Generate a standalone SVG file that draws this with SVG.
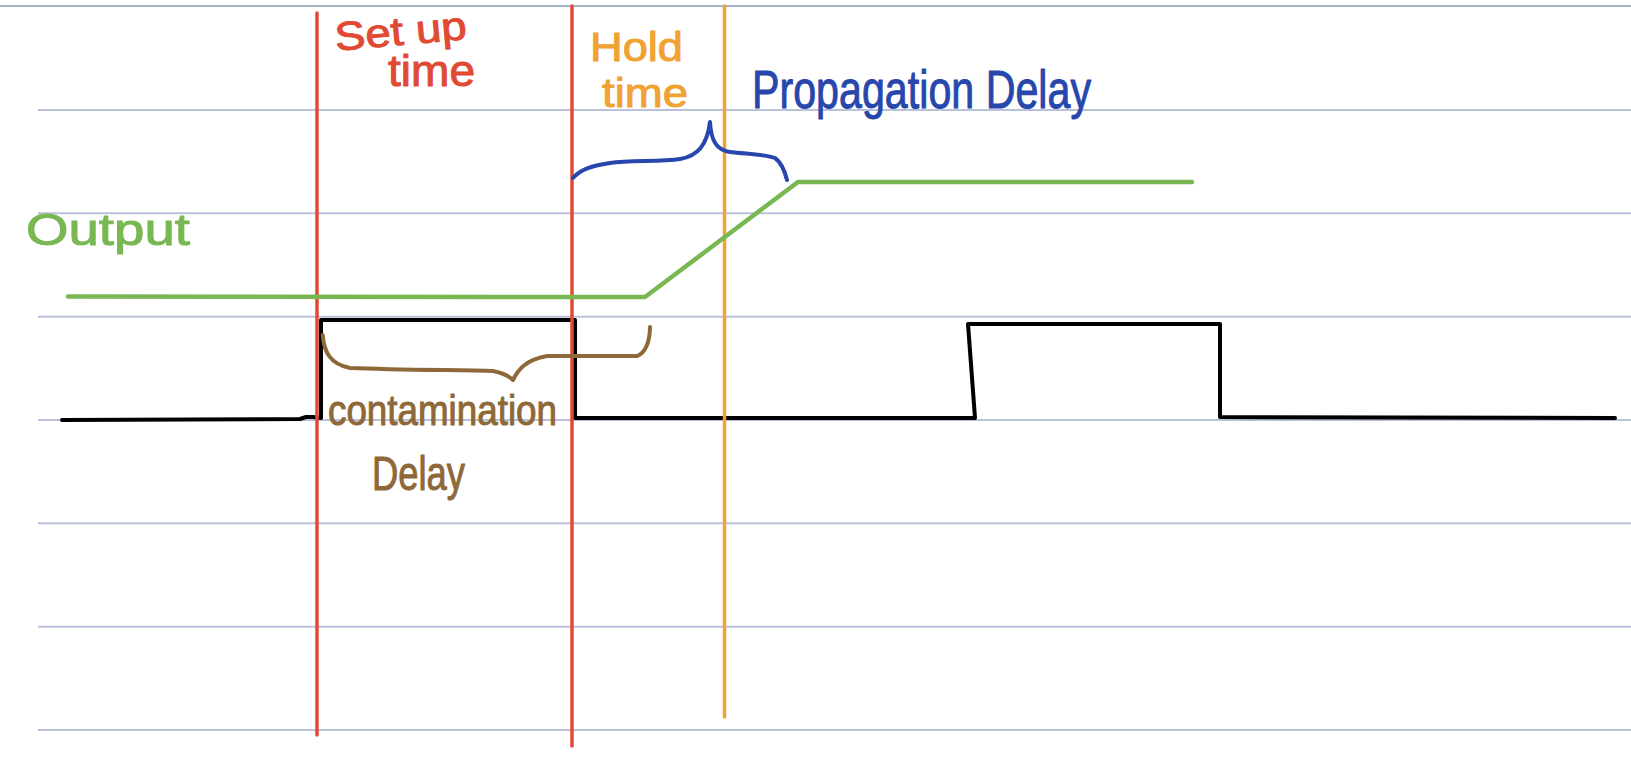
<svg xmlns="http://www.w3.org/2000/svg" width="1631" height="761" viewBox="0 0 1631 761">
  <style>
    .rule { stroke: #b9c2d8; stroke-width: 2; fill: none; }
    .hand { fill: none; stroke-linecap: round; stroke-linejoin: round; }
    .lbl { font-family: "Liberation Sans", Arial, sans-serif; stroke-width: 1; stroke-linejoin: round; }
  </style>
  <rect width="1631" height="761" fill="#ffffff"/>
  <g id="ruled-paper">
    <line class="rule" x1="0" y1="6" x2="1631" y2="6" stroke-width="3" style="stroke:#aab4ca"/>
    <line class="rule" x1="38" y1="110" x2="1631" y2="110"/>
    <line class="rule" x1="38" y1="213.3" x2="1631" y2="213.3"/>
    <line class="rule" x1="38" y1="316.7" x2="1631" y2="316.7"/>
    <line class="rule" x1="38" y1="420" x2="1631" y2="420"/>
    <line class="rule" x1="38" y1="523.3" x2="1631" y2="523.3"/>
    <line class="rule" x1="38" y1="626.7" x2="1631" y2="626.7"/>
    <line class="rule" x1="38" y1="730" x2="1631" y2="730"/>
  </g>
  <g id="input-signal">
    <path class="hand" stroke="#000000" stroke-width="4" d="M62,420 L300,419 L306,417 L313,417 L321,418 L321,320 L575,320 L575,418 L975,418 L968,324 L1220,324 L1220,417 L1615,418"/>
  </g>
  <g id="timing-markers">
    <line id="setup-edge" x1="317" y1="13" x2="317" y2="735" stroke="#e04a33" stroke-width="3.5" stroke-linecap="round"/>
    <line id="hold-start" x1="572" y1="6" x2="572" y2="746" stroke="#e04a33" stroke-width="3.5" stroke-linecap="round"/>
    <line id="hold-end" x1="724.5" y1="6" x2="724.5" y2="717" stroke="#f0a232" stroke-width="3.5" stroke-linecap="round"/>
  </g>
  <g id="output-signal">
    <path class="hand" stroke="#78b752" stroke-width="4.5" d="M68,296.5 L645,297 L798,182 L1192,182"/>
  </g>
  <g id="connectors">
    <path id="contamination-brace" class="hand" stroke="#8e6838" stroke-width="4" d="M322.7,335 C324,352 330,364 350,368 C400,370 460,370 493,371 C503,373 510,377 513,380 C518,370 525,360 547,356 C580,356 610,356 637,356 C646,353 650,340 650,327"/>
    <path id="propagation-brace" class="hand" stroke="#2747ad" stroke-width="4" d="M573,178 C580,170 590,166 610,163 C630,160 660,162 680,159 C698,156 707,145 710,122 C711,140 716,150 730,152 C745,154 765,154 775,158 C782,163 785,172 787,180"/>
  </g>
  <g id="labels" class="lbl">
    <text id="setup-label" x="335" y="45" font-size="40" fill="#e04a33" stroke="#e04a33" textLength="132" lengthAdjust="spacingAndGlyphs" transform="rotate(-5 400 35)">Set up</text>
    <text id="setup-time" x="388" y="86" font-size="44" fill="#e04a33" stroke="#e04a33" textLength="87" lengthAdjust="spacingAndGlyphs">time</text>
    <text id="hold-label" x="590" y="61" font-size="40" fill="#f0a232" stroke="#f0a232" textLength="93" lengthAdjust="spacingAndGlyphs">Hold</text>
    <text id="hold-time" x="602" y="107" font-size="41" fill="#f0a232" stroke="#f0a232" textLength="86" lengthAdjust="spacingAndGlyphs">time</text>
    <text id="propagation-label" x="752" y="108" font-size="54" fill="#2747ad" stroke="#2747ad" textLength="339" lengthAdjust="spacingAndGlyphs">Propagation Delay</text>
    <text id="output-label" x="26" y="245" font-size="44" fill="#78b752" stroke="#78b752" textLength="164" lengthAdjust="spacingAndGlyphs">Output</text>
    <text id="contamination-label" x="328" y="425" font-size="42" fill="#8e6838" stroke="#8e6838" textLength="229" lengthAdjust="spacingAndGlyphs">contamination</text>
    <text id="contamination-delay" x="372" y="490" font-size="48" fill="#8e6838" stroke="#8e6838" textLength="93" lengthAdjust="spacingAndGlyphs">Delay</text>
  </g>
</svg>
